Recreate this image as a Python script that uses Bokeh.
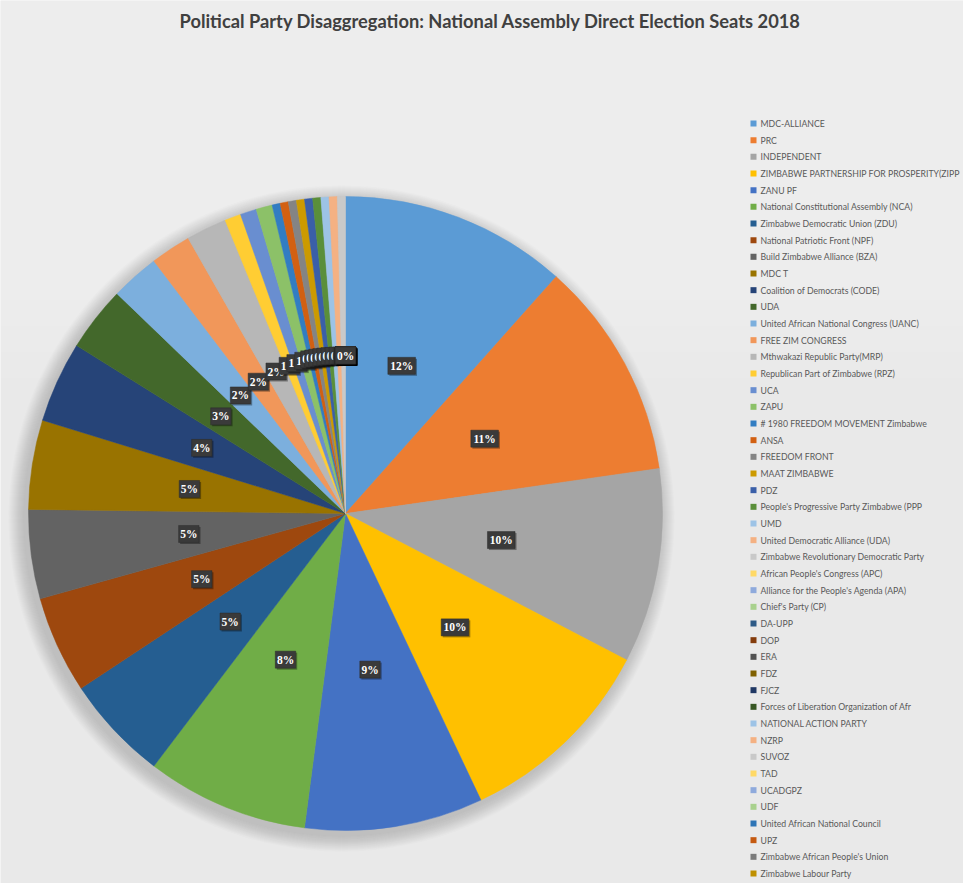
import math
from bokeh.plotting import figure
from bokeh.models import ColumnDataSource, Range1d
from bokeh.core.properties import value
from bokeh.embed import file_html
from bokeh.resources import INLINE

# ---------------- data ----------------
parties = [
    "MDC-ALLIANCE", "PRC", "INDEPENDENT", "ZIMBABWE PARTNERSHIP FOR PROSPERITY(ZIPP",
    "ZANU PF", "National Constitutional Assembly (NCA)", "Zimbabwe Democratic Union (ZDU)",
    "National Patriotic Front (NPF)", "Build Zimbabwe Alliance (BZA)", "MDC T",
    "Coalition of Democrats (CODE)", "UDA", "United African National Congress (UANC)",
    "FREE ZIM CONGRESS", "Mthwakazi Republic Party(MRP)", "Republican Part of Zimbabwe (RPZ)",
    "UCA", "ZAPU", "# 1980 FREEDOM MOVEMENT Zimbabwe", "ANSA", "FREEDOM FRONT",
    "MAAT ZIMBABWE", "PDZ", "People's Progressive Party Zimbabwe (PPP", "UMD",
    "United Democratic Alliance (UDA)", "Zimbabwe Revolutionary Democratic Party",
    "African People's Congress (APC)", "Alliance for the People's Agenda (APA)",
    "Chief's Party (CP)", "DA-UPP", "DOP", "ERA", "FDZ", "FJCZ",
    "Forces of Liberation Organization of Afr", "NATIONAL ACTION PARTY", "NZRP", "SUVOZ",
    "TAD", "UCADGPZ", "UDF", "United African National Council", "UPZ",
    "Zimbabwe African People's Union", "Zimbabwe Labour Party",
]
seats = [
    28, 27, 24, 25, 22, 20, 13, 12, 11, 11, 10, 8, 6, 5, 5, 2, 2, 2,
    1, 1, 1, 1, 1, 1, 1, 1, 1,
    0, 0, 0, 0, 0, 0, 0, 0, 0, 0, 0, 0, 0, 0, 0, 0, 0, 0, 0,
]
colors = [
    "#5B9BD5", "#ED7D31", "#A5A5A5", "#FFC000", "#4472C4", "#70AD47",
    "#255E91", "#9E480E", "#636363", "#997300", "#264478", "#43682B",
    "#7CAFDD", "#F1975A", "#B7B7B7", "#FFCD33", "#698ED0", "#8CC168",
    "#327DC2", "#D26012", "#848484", "#CC9A00", "#3A5FA8", "#5A8F3A",
    "#9DC3E6", "#F4B183", "#C9C9C9", "#FFD966", "#8FAADC", "#A9D18E",
    "#2E5B87", "#843C0C", "#525252", "#7F6000", "#203864", "#375623",
    "#9DC3E6", "#F4B183", "#C9C9C9", "#FFD966", "#8FAADC", "#A9D18E",
    "#2E75B6", "#C55A11", "#7B7B7B", "#BF9000",
]
title_text = "Political Party Disaggregation: National Assembly Direct Election Seats 2018"

# ---------------- layout ----------------
W, H = 963, 883
def py(Y):  # image y (px from top) -> plot y
    return H - Y
def px(X):
    return X

cx, cy, R = px(345), py(513), 317
label_r = 158

total = sum(seats)
starts, ends, mids, pct = [], [], [], []
cum = 0
for v in seats:
    a0 = cum / total
    cum += v
    a1 = cum / total
    starts.append(math.pi / 2 - 2 * math.pi * a1)
    ends.append(math.pi / 2 - 2 * math.pi * a0)
    mids.append(math.pi / 2 - 2 * math.pi * (a0 + a1) / 2)
    pct.append(f"{round(v / total * 100)}%")

p = figure(width=W, height=H, output_backend="svg", toolbar_location=None,
           x_range=Range1d(0, W), y_range=Range1d(0, H), min_border=0)
p.axis.visible = False
p.grid.visible = False
p.outline_line_color = None
p.background_fill_color = "#e9e9e9"
p.border_fill_color = "#e9e9e9"

# soft background lightening towards the top / right
for k in range(14):
    p.quad(left=0, right=W, bottom=H - 40 - k * 26, top=H, fill_color="white",
           fill_alpha=0.05, line_color=None)
for k in range(6):
    p.quad(left=700 + k * 20, right=W, bottom=0, top=H, fill_color="white",
           fill_alpha=0.03, line_color=None)

# shadow around the pie
for k in range(16):
    p.circle(x=cx - 4, y=cy - 5, radius=R + 16 - k, fill_color="#7a7a7a",
             fill_alpha=0.02, line_color=None)

nz = [i for i, v in enumerate(seats) if v > 0]
src = ColumnDataSource(dict(
    start=[starts[i] for i in nz], end=[ends[i] for i in nz],
    color=[colors[i] for i in nz], name=[parties[i] for i in nz],
))
p.wedge(x=cx, y=cy, radius=R, start_angle="start", end_angle="end",
        fill_color="color", line_color="color", line_width=0.5, source=src)

# data labels (all entries, including zero ones, as Excel does);
# each label drawn as its own box + text so later labels cover earlier ones
for i, t in enumerate(pct):
    x = cx + label_r * math.cos(mids[i])
    y = cy + label_r * math.sin(mids[i])
    w = 6 + 7.2 * len(t)
    s = ColumnDataSource(dict(x=[x], y=[y], sx=[x + 1.5], sy=[y - 1.5], w=[w], text=[t]))
    p.rect(x="sx", y="sy", width="w", height=17, width_units="screen",
           height_units="screen", fill_color="#000000", fill_alpha=0.35,
           line_color=None, source=s)
    p.rect(x="x", y="y", width="w", height=17, width_units="screen",
           height_units="screen", fill_color="#3a3a3a", line_color="#2c2c2c",
           line_width=0.5, source=s)
    p.text(x="x", y="y", text="text", source=s, text_align="center",
           text_baseline="middle", text_color="white", text_font_style="bold",
           text_font=value("Liberation Serif"), text_font_size="11.5px")

# legend
leg_y = [py(123 + i * (750 / 45)) for i in range(len(parties))]
p.scatter(x=px(753), y=leg_y, marker="square", size=6, fill_color=colors,
          line_color=None)
p.text(x=px(760), y=leg_y, text=parties, text_font=value("Lato"),
       text_font_size="8.7px", text_color="#595959", text_baseline="middle")

# title
p.text(x=px(490), y=py(20), text=[title_text], text_font=value("Lato"),
       text_font_style="bold", text_font_size="18.3px", text_color="#404040",
       text_align="center", text_baseline="middle")

open("out.html", "w").write(file_html(p, INLINE))
